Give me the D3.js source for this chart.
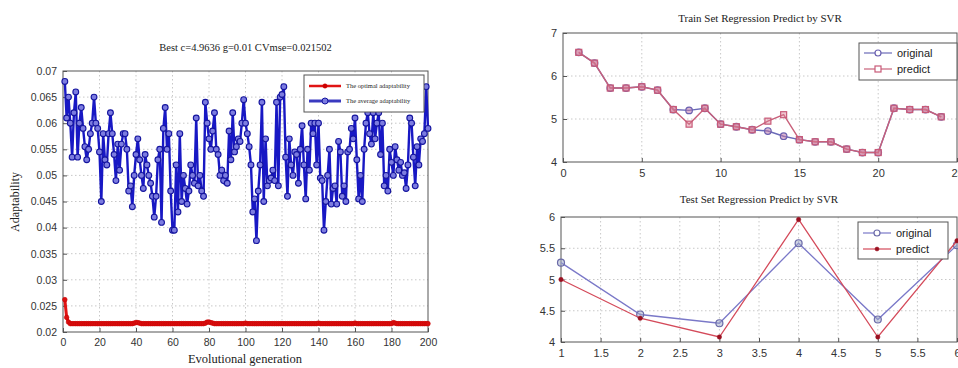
<!DOCTYPE html>
<html>
<head>
<meta charset="utf-8">
<script src="https://cdn.jsdelivr.net/npm/d3@7"></script>
<style>
  body { margin: 0; background: #fff; }
  svg { display: block; }
  .grid line { stroke: #c8c8c8; stroke-dasharray: 1.5,2.5; }
  .tick text { fill: #333; }
</style>
</head>
<body>
<div id="chart"></div>
<script>
// left panel: adaptability per generation
const avgAdapt = [
  0.068, 0.061, 0.065, 0.060, 0.0535, 0.062, 0.066, 0.0535, 0.060, 0.063,
  0.059, 0.0555, 0.053, 0.055, 0.058, 0.060, 0.065, 0.060, 0.059, 0.0545,
  0.045, 0.058, 0.053, 0.052, 0.058, 0.062, 0.058, 0.054, 0.049, 0.056,
  0.051, 0.056, 0.058, 0.058, 0.055, 0.047, 0.048, 0.044, 0.050, 0.054,
  0.057, 0.053, 0.050, 0.0475, 0.054, 0.052, 0.050, 0.0485, 0.046, 0.042,
  0.046, 0.053, 0.055, 0.041, 0.059, 0.063, 0.055, 0.058, 0.047, 0.0395,
  0.0395, 0.052, 0.043, 0.058, 0.045, 0.050, 0.0475, 0.0445, 0.047, 0.052,
  0.050, 0.0485, 0.061, 0.048, 0.050, 0.047, 0.046, 0.064, 0.060, 0.057,
  0.055, 0.0585, 0.062, 0.055, 0.054, 0.050, 0.051, 0.049, 0.050, 0.0485,
  0.0585, 0.053, 0.062, 0.0545, 0.0555, 0.057, 0.0565, 0.060, 0.0645, 0.060,
  0.058, 0.0555, 0.052, 0.043, 0.0455, 0.0375, 0.047, 0.052, 0.064, 0.045,
  0.057, 0.048, 0.049, 0.0495, 0.051, 0.049, 0.064, 0.048, 0.065, 0.0655,
  0.067, 0.0535, 0.046, 0.057, 0.052, 0.050, 0.0545, 0.054, 0.0485, 0.055,
  0.0595, 0.052, 0.0455, 0.055, 0.051, 0.060, 0.058, 0.060, 0.052, 0.060,
  0.0495, 0.049, 0.0395, 0.045, 0.050, 0.055, 0.0445, 0.0475, 0.048, 0.0445,
  0.0565, 0.0545, 0.046, 0.048, 0.045, 0.0545, 0.055, 0.059, 0.057, 0.061,
  0.053, 0.0455, 0.050, 0.045, 0.055, 0.060, 0.062, 0.058, 0.056, 0.062,
  0.057, 0.060, 0.062, 0.054, 0.060, 0.048, 0.050, 0.047, 0.055, 0.0525,
  0.050, 0.0555, 0.053, 0.051, 0.0525, 0.050, 0.0505, 0.0475, 0.052, 0.061,
  0.060, 0.0535, 0.048, 0.0555, 0.052, 0.057, 0.0565, 0.058, 0.067, 0.059
];
const bestAdapt = [
  0.0262, 0.0228, 0.0219, 0.0216, 0.0216, 0.0216, 0.0216, 0.0216, 0.0216, 0.0216,
  0.0216, 0.0216, 0.0216, 0.0216, 0.0216, 0.0216, 0.0216, 0.0216, 0.0216, 0.0216,
  0.0216, 0.0216, 0.0216, 0.0216, 0.0216, 0.0216, 0.0216, 0.0216, 0.0216, 0.0216,
  0.0216, 0.0216, 0.0216, 0.0216, 0.0216, 0.0216, 0.0216, 0.0216, 0.0217, 0.0218,
  0.0218, 0.0217, 0.0216, 0.0216, 0.0216, 0.0216, 0.0216, 0.0216, 0.0216, 0.0216,
  0.0216, 0.0216, 0.0216, 0.0216, 0.0216, 0.0216, 0.0216, 0.0216, 0.0216, 0.0216,
  0.0216, 0.0216, 0.0216, 0.0216, 0.0216, 0.0216, 0.0216, 0.0216, 0.0216, 0.0216,
  0.0216, 0.0216, 0.0216, 0.0216, 0.0216, 0.0216, 0.0216, 0.0217, 0.0219, 0.0219,
  0.0218, 0.0217, 0.0216, 0.0216, 0.0216, 0.0216, 0.0216, 0.0216, 0.0216, 0.0216,
  0.0216, 0.0216, 0.0216, 0.0216, 0.0216, 0.0216, 0.0216, 0.0216, 0.0216, 0.0217,
  0.0216, 0.0216, 0.0216, 0.0216, 0.0216, 0.0216, 0.0216, 0.0216, 0.0216, 0.0216,
  0.0216, 0.0216, 0.0216, 0.0216, 0.0216, 0.0216, 0.0216, 0.0216, 0.0216, 0.0216,
  0.0216, 0.0216, 0.0216, 0.0216, 0.0216, 0.0216, 0.0216, 0.0216, 0.0216, 0.0216,
  0.0216, 0.0216, 0.0216, 0.0216, 0.0216, 0.0216, 0.0216, 0.0216, 0.0216, 0.0217,
  0.0216, 0.0216, 0.0216, 0.0216, 0.0216, 0.0216, 0.0216, 0.0216, 0.0216, 0.0216,
  0.0216, 0.0216, 0.0216, 0.0216, 0.0216, 0.0216, 0.0216, 0.0216, 0.0216, 0.0217,
  0.0216, 0.0216, 0.0216, 0.0216, 0.0216, 0.0216, 0.0216, 0.0216, 0.0216, 0.0216,
  0.0216, 0.0216, 0.0216, 0.0216, 0.0216, 0.0216, 0.0216, 0.0216, 0.0216, 0.0216,
  0.0218, 0.0217, 0.0216, 0.0216, 0.0216, 0.0216, 0.0216, 0.0216, 0.0216, 0.0216,
  0.0216, 0.0216, 0.0216, 0.0216, 0.0216, 0.0216, 0.0216, 0.0216, 0.0216, 0.0216
];
const genTicks = [0, 20, 40, 60, 80, 100, 120, 140, 160, 180, 200];
const adaptTicks = [0.02, 0.025, 0.03, 0.035, 0.04, 0.045, 0.05, 0.055, 0.06, 0.065, 0.07];

// right top: train set
const trainIdx = [1, 2, 3, 4, 5, 6, 7, 8, 9, 10, 11, 12, 13, 14, 15, 16, 17, 18, 19, 20, 21, 22, 23, 24];
const trainOriginal = [6.55, 6.3, 5.72, 5.72, 5.75, 5.67, 5.22, 5.2, 5.25, 4.88, 4.82, 4.75, 4.72, 4.6, 4.52, 4.47, 4.47, 4.3, 4.22, 4.22, 5.25, 5.22, 5.22, 5.05];
const trainPredict  = [6.55, 6.3, 5.72, 5.72, 5.75, 5.67, 5.22, 4.88, 5.25, 4.88, 4.82, 4.75, 4.95, 5.1, 4.52, 4.47, 4.47, 4.3, 4.22, 4.22, 5.25, 5.22, 5.22, 5.05];
const trainXTicks = [0, 5, 10, 15, 20, 25];
const trainYTicks = [4, 5, 6, 7];

// right bottom: test set
const testIdx = [1, 2, 3, 4, 5, 6];
const testOriginal = [5.27, 4.44, 4.3, 5.58, 4.36, 5.55];
const testPredict  = [5.0, 4.38, 4.08, 5.96, 4.08, 5.62];
const testXTicks = [1, 1.5, 2, 2.5, 3, 3.5, 4, 4.5, 5, 5.5, 6];
const testYTicks = [4, 4.5, 5, 5.5, 6];

const W = 958, H = 368;
const svg = d3.select('#chart').append('svg').attr('width', W).attr('height', H);

const fmt = (d) => String(+d.toFixed(4));

function panel(box, xDom, yDom, xTicks, yTicks, opts) {
  const x = d3.scaleLinear().domain(xDom).range([box.left, box.right]);
  const y = d3.scaleLinear().domain(yDom).range([box.bottom, box.top]);
  const g = svg.append('g');

  const grid = g.append('g').attr('class', 'grid');
  grid.selectAll('.gx').data(xTicks.slice(1, -1)).join('line')
    .attr('x1', (d) => x(d)).attr('x2', (d) => x(d))
    .attr('y1', box.top).attr('y2', box.bottom);
  grid.selectAll('.gy').data(yTicks.slice(1, -1)).join('line')
    .attr('y1', (d) => y(d)).attr('y2', (d) => y(d))
    .attr('x1', box.left).attr('x2', box.right);

  g.append('rect')
    .attr('x', box.left).attr('y', box.top)
    .attr('width', box.right - box.left).attr('height', box.bottom - box.top)
    .attr('fill', 'none').attr('stroke', '#555').attr('stroke-width', 1);

  const xa = g.append('g')
    .attr('transform', `translate(0,${box.bottom})`)
    .call(d3.axisBottom(x).tickValues(xTicks).tickFormat(fmt).tickSizeInner(-4).tickSizeOuter(0).tickPadding(7));
  const ya = g.append('g')
    .attr('transform', `translate(${box.left},0)`)
    .call(d3.axisLeft(y).tickValues(yTicks).tickFormat(fmt).tickSizeInner(-4).tickSizeOuter(0).tickPadding(6));
  [xa, ya].forEach((a) => {
    a.select('.domain').remove();
    a.selectAll('.tick line').attr('stroke', '#555');
    a.selectAll('.tick text')
      .attr('font-family', 'Liberation Sans, Arial, sans-serif')
      .attr('font-size', opts.tickSize);
  });

  g.append('text')
    .attr('x', (box.left + box.right) / 2 + (opts.titleDx || 0)).attr('y', opts.titleY)
    .attr('text-anchor', 'middle')
    .attr('font-family', 'Liberation Serif, Times New Roman, serif')
    .attr('font-size', opts.titleSize)
    .attr('fill', '#222')
    .text(opts.title);

  return { g, x, y };
}

function series(p, xs, ys, color, width, marker) {
  const pts = xs.map((d, i) => [d, ys[i]]);
  p.g.append('path')
    .datum(pts)
    .attr('fill', 'none')
    .attr('stroke', color)
    .attr('stroke-width', width)
    .attr('d', d3.line().x((d) => p.x(d[0])).y((d) => p.y(d[1])));
  const mg = p.g.append('g');
  if (marker.type === 'circle') {
    mg.selectAll('circle').data(pts).join('circle')
      .attr('cx', (d) => p.x(d[0])).attr('cy', (d) => p.y(d[1]))
      .attr('r', marker.r)
      .attr('fill', marker.fill).attr('stroke', marker.stroke).attr('stroke-width', marker.sw);
  } else if (marker.type === 'square') {
    mg.selectAll('rect').data(pts).join('rect')
      .attr('x', (d) => p.x(d[0]) - marker.r).attr('y', (d) => p.y(d[1]) - marker.r)
      .attr('width', marker.r * 2).attr('height', marker.r * 2)
      .attr('fill', marker.fill).attr('stroke', marker.stroke).attr('stroke-width', marker.sw);
  }
}

function legend(box, rows, fontSize, sample) {
  const g = svg.append('g');
  g.append('rect')
    .attr('x', box.x).attr('y', box.y).attr('width', box.w).attr('height', box.h)
    .attr('fill', '#fff').attr('stroke', '#555').attr('stroke-width', 1);
  rows.forEach((r, i) => {
    const cy = box.y + box.pad + i * box.step;
    const x0 = box.x + 5, x1 = x0 + sample;
    g.append('line').attr('x1', x0).attr('x2', x1).attr('y1', cy).attr('y2', cy)
      .attr('stroke', r.color).attr('stroke-width', r.width);
    const mx = (x0 + x1) / 2;
    if (r.marker.type === 'square') {
      g.append('rect').attr('x', mx - r.marker.r).attr('y', cy - r.marker.r)
        .attr('width', r.marker.r * 2).attr('height', r.marker.r * 2)
        .attr('fill', r.marker.fill).attr('stroke', r.marker.stroke).attr('stroke-width', r.marker.sw);
    } else {
      g.append('circle').attr('cx', mx).attr('cy', cy).attr('r', r.marker.r)
        .attr('fill', r.marker.fill).attr('stroke', r.marker.stroke).attr('stroke-width', r.marker.sw);
    }
    g.append('text').attr('x', x1 + 5).attr('y', cy).attr('dy', '0.35em')
      .attr('font-family', r.font).attr('font-size', fontSize).attr('fill', '#222')
      .text(r.label);
  });
}

// ---- left panel
const gens = avgAdapt.map((d, i) => i + 1);
const left = panel({ left: 63, right: 428, top: 71, bottom: 332 }, [0, 200], [0.02, 0.07],
  genTicks, adaptTicks,
  { title: 'Best c=4.9636 g=0.01 CVmse=0.021502', titleY: 51, titleSize: 10.5, tickSize: 10.5 });
series(left, gens, avgAdapt, '#1818c4', 2.4,
  { type: 'circle', r: 2.9, fill: '#7c7ce0', stroke: '#14149e', sw: 1.1 });
series(left, gens, bestAdapt, '#e01414', 3,
  { type: 'circle', r: 2.3, fill: '#d81010', stroke: '#c00', sw: 0.6 });
svg.append('text')
  .attr('transform', 'translate(19,202) rotate(-90)')
  .attr('text-anchor', 'middle')
  .attr('font-family', 'Liberation Serif, Times New Roman, serif')
  .attr('font-size', 12).attr('fill', '#222')
  .text('Adaptability');
svg.append('text')
  .attr('x', 245).attr('y', 363)
  .attr('text-anchor', 'middle')
  .attr('font-family', 'Liberation Serif, Times New Roman, serif')
  .attr('font-size', 12.5).attr('fill', '#222')
  .text('Evolutional generation');
legend({ x: 304, y: 75, w: 120, h: 37, pad: 11, step: 15 }, [
  { label: 'The optimal adaptability', color: '#e01414', width: 2.5, font: 'Liberation Serif, serif',
    marker: { type: 'circle', r: 2.2, fill: '#c00', stroke: '#c00', sw: 0.5 } },
  { label: 'The average adaptability', color: '#3a3ac0', width: 3, font: 'Liberation Serif, serif',
    marker: { type: 'circle', r: 3, fill: '#7c7ce0', stroke: '#14149e', sw: 1 } }
], 6.5, 32);

// ---- right top: train
const train = panel({ left: 563, right: 957, top: 33, bottom: 162 }, [0, 25], [4, 7],
  trainXTicks, trainYTicks,
  { title: 'Train Set Regression Predict by SVR', titleY: 22, titleSize: 11, tickSize: 11 });
series(train, trainIdx, trainOriginal, '#6a6ab8', 1.4,
  { type: 'circle', r: 3.3, fill: 'rgba(190,120,170,0.55)', stroke: '#6a60b0', sw: 1.2 });
series(train, trainIdx, trainPredict, '#c8607a', 1.4,
  { type: 'square', r: 3, fill: 'rgba(220,130,150,0.45)', stroke: '#c85a78', sw: 1.2 });
legend({ x: 859, y: 43, w: 98, h: 37, pad: 10, step: 16 }, [
  { label: 'original', color: '#6a6ab8', width: 1.2, font: 'Liberation Sans, Arial, sans-serif',
    marker: { type: 'circle', r: 3, fill: '#fff', stroke: '#6a60b0', sw: 1.2 } },
  { label: 'predict', color: '#c8607a', width: 1.2, font: 'Liberation Sans, Arial, sans-serif',
    marker: { type: 'square', r: 3, fill: '#fff', stroke: '#c85a78', sw: 1.2 } }
], 11, 28);

// ---- right bottom: test
const test = panel({ left: 561, right: 957, top: 217, bottom: 342 }, [1, 6], [4, 6],
  testXTicks, testYTicks,
  { title: 'Test Set Regression Predict by SVR', titleY: 203, titleSize: 11, tickSize: 11 });
series(test, testIdx, testOriginal, '#7a78c8', 1.3,
  { type: 'circle', r: 3.5, fill: 'rgba(160,170,200,0.5)', stroke: '#6a6aa8', sw: 1.2 });
series(test, testIdx, testPredict, '#d44a5a', 1.3,
  { type: 'circle', r: 2.2, fill: '#9a1020', stroke: '#9a1020', sw: 0.5 });
legend({ x: 858, y: 222, w: 90, h: 37, pad: 11, step: 16 }, [
  { label: 'original', color: '#7a78c8', width: 1.2, font: 'Liberation Sans, Arial, sans-serif',
    marker: { type: 'circle', r: 3, fill: '#fff', stroke: '#6a6aa8', sw: 1.2 } },
  { label: 'predict', color: '#d44a5a', width: 1.2, font: 'Liberation Sans, Arial, sans-serif',
    marker: { type: 'circle', r: 2, fill: '#9a1020', stroke: '#9a1020', sw: 0.5 } }
], 11, 28);
</script>
</body>
</html>
